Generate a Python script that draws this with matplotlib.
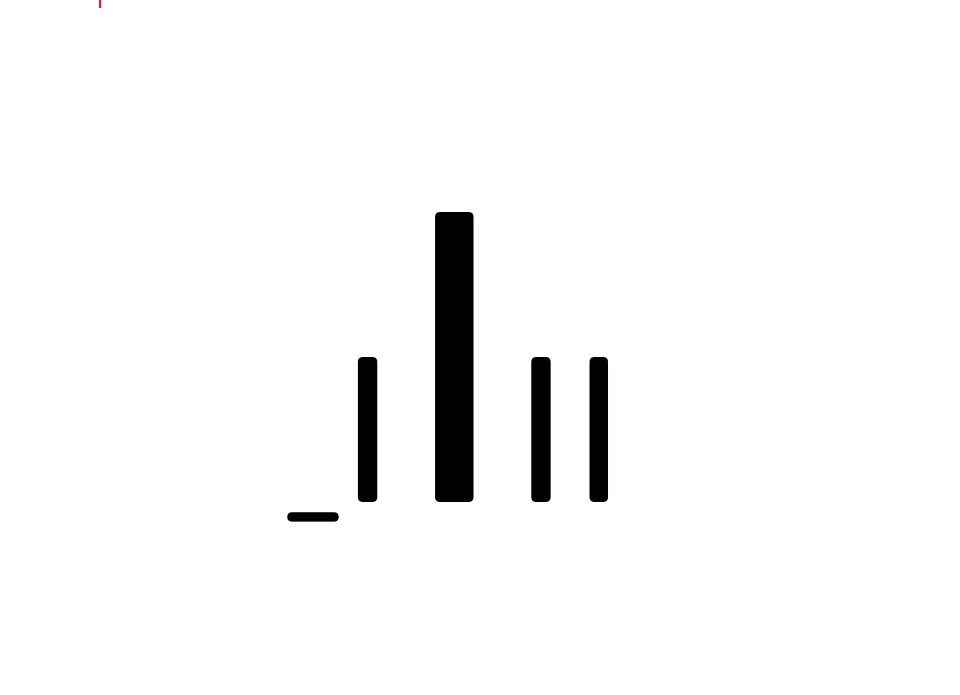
import matplotlib
matplotlib.use("Agg")
import matplotlib.pyplot as plt
from matplotlib.patches import FancyBboxPatch

# vertical bars
bar_x = [0, 3, 6, 8]
bar_h = [1.0, 2.0, 1.0, 1.0]
bar_w = [0.67, 1.33, 0.67, 0.64]

# short horizontal bar below the baseline
hbar_y = -0.103
hbar_left = -2.78
hbar_len = 1.78
hbar_thick = 0.065

# small red mark at the top edge
mark_x = -9.26
mark_y = [3.41, 3.47]

fig = plt.figure(figsize=(9.6, 6.95), dpi=100)
ax = fig.add_axes([0, 0, 1, 1])
ax.set_xlim(-12.72, 20.5)
ax.set_ylim(-1.331, 3.462)
ax.axis("off")

x_per_px = (20.5 + 12.72) / 960
y_per_px = (3.462 + 1.331) / 695
aspect = y_per_px / x_per_px

bars = ax.bar(bar_x, bar_h, width=bar_w, color="black")
bars += ax.barh([hbar_y], [hbar_len], height=hbar_thick, left=hbar_left, color="black")

# swap plain rectangles for slightly rounded ones
for rect in list(bars):
    x0, y0 = rect.get_x(), rect.get_y()
    w, h = rect.get_width(), rect.get_height()
    rect.set_visible(False)
    r = min(5 * x_per_px, w / 2, h / aspect / 2)
    ax.add_patch(FancyBboxPatch((x0, y0), w, h,
                                boxstyle=f"round,pad=0,rounding_size={r}",
                                mutation_aspect=aspect,
                                facecolor="black", edgecolor="none"))

ax.plot([mark_x, mark_x], mark_y, color="#e3202a", linewidth=1.6, solid_capstyle="butt")

fig.savefig("out.png", dpi=100)
